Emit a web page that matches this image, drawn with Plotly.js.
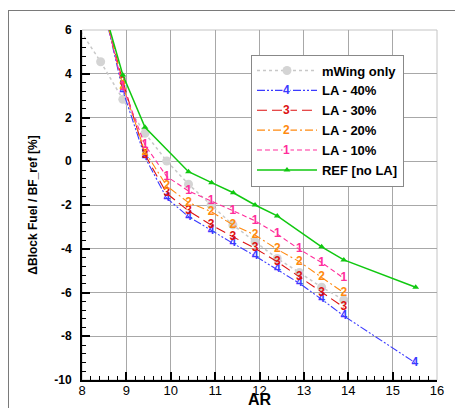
<!DOCTYPE html>
<html><head><meta charset="utf-8">
<script src="https://cdn.plot.ly/plotly-3.0.1.min.js"></script>
<style>
html,body{margin:0;padding:0;background:#fff;overflow:hidden}
#wrap{position:relative;width:455px;height:408px;overflow:hidden}
#chart{width:455px;height:408px}
#frame{position:absolute;left:8px;top:10px;width:520px;height:520px;border-left:1px solid #7a7a7a;border-top:1px solid #7a7a7a;pointer-events:none;z-index:5}
</style>
</head><body><div id="wrap"><div id="chart"></div><div id="frame"></div></div>
<script>
// Aspect ratio (x) values
const arMWing = [7.9, 8.42, 8.92, 9.42, 9.91, 10.40, 10.91, 11.40, 11.90, 12.40, 12.90, 13.40, 13.90];
const mWing   = [6.16, 4.55, 2.83, 1.28, 0.01, -1.05, -2.00, -2.91, -3.68, -4.44, -5.09, -5.76, -6.34];

const arLA = [8.5, 8.92, 9.42, 9.91, 10.40, 10.91, 11.40, 11.90, 12.40, 12.90, 13.40, 13.90];
const la40 = [6.9, 3.23, 0.18, -1.69, -2.53, -3.17, -3.75, -4.33, -4.94, -5.58, -6.31, -7.07];
const la30 = [6.9, 3.64, 0.30, -1.47, -2.27, -2.91, -3.45, -3.98, -4.59, -5.28, -6.01, -6.68];
const la20 = [6.9, 3.45, 0.44, -1.13, -1.89, -2.30, -2.91, -3.37, -4.03, -4.59, -5.31, -6.01];
const la10 = [6.9, 3.40, 0.74, -0.70, -1.36, -1.80, -2.26, -2.72, -3.33, -4.03, -4.63, -5.35];
const ar40Ext = [15.5];
const la40Ext = [-9.2];

const arRef = [8.5, 8.92, 9.42, 10.40, 10.92, 11.41, 11.90, 12.40, 13.40, 13.90, 15.52];
const ref   = [6.92, 3.94, 1.55, -0.48, -0.98, -1.44, -2.00, -2.50, -3.91, -4.51, -5.76];

const seriesNames = ['mWing only', 'LA - 40%', 'LA - 30%', 'LA - 20%', 'LA - 10%', 'REF [no LA]'];
const digitLabels = ['4', '3', '2', '1'];
const xTicks = [8, 9, 10, 11, 12, 13, 14, 15, 16];
const yTicks = [-10, -8, -6, -4, -2, 0, 2, 4, 6];

const colors = ['#c8c8c8', '#3b3bff', '#dd1111', '#ff8a10', '#ff2d9b', '#10c810'];
const dashes = ['3px,3px', '8px,2px,2px,2px,2px,2px', '10px,5px', '8px,3px,2px,3px', '5px,3px', 'solid'];
const FONT = 'Liberation Sans, Arial, sans-serif';

function laTrace(x, y, i, digit) {
  return {
    x: x, y: y, mode: 'lines+text', type: 'scatter', name: seriesNames[i], showlegend: true,
    legendrank: i + 1,
    text: x.map(v => (v < 8.7 ? '' : digit)),
    textposition: 'middle center',
    textfont: {family: FONT, size: 12, color: colors[i], weight: 'bold'},
    line: {color: colors[i], width: 1.1, dash: dashes[i]},
    hoverinfo: 'skip'
  };
}

const traces = [
  {x: arMWing, y: mWing, mode: 'lines+markers', type: 'scatter', name: seriesNames[0], legendrank: 1,
   line: {color: colors[0], width: 1.5, dash: dashes[0]},
   marker: {color: '#d4d4d4', size: 9, symbol: 'circle'}},
  laTrace(arLA.concat(ar40Ext), la40.concat(la40Ext), 1, digitLabels[0]),
  laTrace(arLA, la30, 2, digitLabels[1]),
  laTrace(arLA, la20, 3, digitLabels[2]),
  laTrace(arLA, la10, 4, digitLabels[3]),
  {x: arRef, y: ref, mode: 'lines+markers', type: 'scatter', name: seriesNames[5], legendrank: 6,
   line: {color: colors[5], width: 1.5},
   marker: {color: colors[5], size: 6, symbol: 'triangle-up'}}
];

const layout = {
  width: 455, height: 408,
  margin: {l: 82, r: 18, t: 30, b: 28},
  paper_bgcolor: '#fff', plot_bgcolor: '#fff',
  showlegend: true,
  legend: {x: 0.476, y: 0.93, xanchor: 'left', yanchor: 'top',
    bgcolor: '#fff', bordercolor: '#888', borderwidth: 1,
    font: {family: FONT, size: 13, color: '#000', weight: 'bold'},
    itemwidth: 60, tracegroupgap: 0},
  xaxis: {range: [8, 16], tickvals: xTicks, ticktext: xTicks.map(String),
    showgrid: true, gridcolor: '#a8a8a8', gridwidth: 1, zeroline: false,
    showline: true, linecolor: '#000', linewidth: 2,
    ticks: 'inside', ticklen: 8, tickwidth: 2, tickcolor: '#000',
    minor: {dtick: 0.2, ticks: 'inside', ticklen: 4, tickwidth: 1, tickcolor: '#000', showgrid: false},
    tickfont: {family: FONT, size: 13, color: '#000'}, ticklabelstandoff: -3,
    title: {text: 'AR', font: {family: FONT, size: 16, color: '#000', weight: 'bold'}, standoff: 3}},
  yaxis: {range: [-10, 6], tickvals: yTicks, ticktext: yTicks.map(String),
    showgrid: true, gridcolor: '#a8a8a8', gridwidth: 1, zeroline: false,
    showline: true, linecolor: '#000', linewidth: 2,
    ticks: 'inside', ticklen: 8, tickwidth: 2, tickcolor: '#000',
    minor: {dtick: 0.4, ticks: 'inside', ticklen: 4, tickwidth: 1, tickcolor: '#000', showgrid: false},
    tickfont: {family: FONT, size: 12, color: '#000', weight: 'bold'}, ticklabelstandoff: 6,
    title: {text: '\u0394Block Fuel / BF_ref [%]', font: {family: FONT, size: 12, color: '#000', weight: 'bold'}, standoff: 14}},
  shapes: [
    {type: 'rect', xref: 'paper', yref: 'paper', x0: 0, x1: 1, y0: 0, y1: 1, line: {color: '#c4c4c4', width: 1}, layer: 'below'}
  ],
  annotations: []
};

Plotly.newPlot('chart', traces, layout, {displayModeBar: false, staticPlot: true}).then(gd => {
  // Put the series digit on each legend sample line, like the reference legend
  const items = gd.querySelectorAll('.legend .traces');
  const box = gd.getBoundingClientRect();
  const ann = [];
  items.forEach(it => {
    const d = it.__data__ && it.__data__[0] && it.__data__[0].trace;
    if (!d || d.mode !== 'lines+text') return;
    const line = it.querySelector('.legendlines path');
    if (!line) return;
    const r = line.getBoundingClientRect();
    const cx = r.left + r.width / 2 - box.left;
    const cy = r.top + r.height / 2 - box.top;
    const digit = d.text.filter(Boolean)[0];
    ann.push({xref: 'paper', yref: 'paper',
      x: (cx - 82) / 355, y: (380 - cy) / 350, text: digit, showarrow: false,
      font: {family: FONT, size: 12, color: d.line.color, weight: 'bold'},
      bgcolor: '#fff', borderpad: 0, xanchor: 'center', yanchor: 'middle'});
  });
  Plotly.relayout(gd, {annotations: ann}).then(() => {
    gd.querySelectorAll('.legend .legendpoints .pointtext').forEach(t => t.style.display = 'none');
  });
});
</script></body></html>
